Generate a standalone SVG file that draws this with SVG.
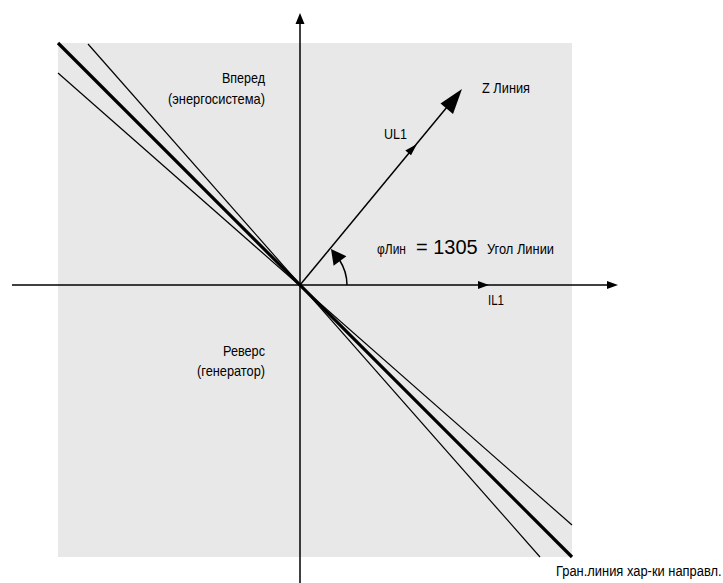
<svg xmlns="http://www.w3.org/2000/svg" width="723" height="583" viewBox="0 0 723 583">
<style>
.lbl{font-family:"Liberation Sans",Arial,sans-serif;font-size:14.5px;fill:#000}
.big{font-family:"Liberation Sans",Arial,sans-serif;font-size:20px;fill:#000}
.ax{stroke:#000;stroke-width:1.5;fill:none}
.thin{stroke:#000;stroke-width:1.2;fill:none}
.thick{stroke:#000;stroke-width:3.2;fill:none}
.head{fill:#000;stroke:none}
</style>
<rect id="area" x="58" y="43" width="514" height="514" fill="#e8e8e8"/>
<g id="connectors">
  <line class="thin" x1="88" y1="44" x2="540" y2="557"/>
  <line class="thin" x1="58" y1="73" x2="572" y2="525"/>
  <line class="thick" x1="58" y1="43" x2="572" y2="557"/>
  <line class="ax" x1="12" y1="285" x2="608" y2="285"/>
  <polygon class="head" points="618,285 607,281 607,289"/>
  <polygon class="head" points="489,285 478,281 478,289"/>
  <line class="ax" x1="300" y1="583" x2="300" y2="22"/>
  <polygon class="head" points="300,13 295.5,24 304.5,24"/>
  <line class="ax" x1="300" y1="285" x2="452" y2="101"/>
  <polygon class="head" points="462,89 440.5,103.5 453,114"/>
  <polygon class="head" points="417,144 405.3,150.5 411,155.3"/>
  <path class="ax" d="M347,285 A47,47 0 0 0 339.5,260"/>
  <polygon class="head" points="331,249 346.4,256.2 333.6,265.8"/>
</g>
<g id="forward">
  <text class="lbl" x="222" y="83" textLength="43" lengthAdjust="spacingAndGlyphs">Вперед</text>
  <text class="lbl" x="168" y="104" textLength="97" lengthAdjust="spacingAndGlyphs">(энергосистема)</text>
</g>
<g id="reverse">
  <text class="lbl" x="223" y="356" textLength="42" lengthAdjust="spacingAndGlyphs">Реверс</text>
  <text class="lbl" x="197" y="376" textLength="68" lengthAdjust="spacingAndGlyphs">(генератор)</text>
</g>
<g id="zline">
  <text class="lbl" x="482" y="93" textLength="48" lengthAdjust="spacingAndGlyphs">Z Линия</text>
</g>
<g id="ul1">
  <text class="lbl" x="384" y="139" textLength="23" lengthAdjust="spacingAndGlyphs">UL1</text>
</g>
<g id="angle">
  <text class="lbl" x="377" y="254" textLength="29" lengthAdjust="spacingAndGlyphs">φЛин</text>
  <text class="big" x="416" y="254">= 1305</text>
  <text class="lbl" x="487" y="254" textLength="67" lengthAdjust="spacingAndGlyphs">Угол Линии</text>
</g>
<g id="il1">
  <text class="lbl" x="488" y="305" textLength="16" lengthAdjust="spacingAndGlyphs">IL1</text>
</g>
<g id="boundary">
  <text class="lbl" transform="translate(556,576) scale(0.89,1)" x="0" y="0">Гран.линия хар-ки направл.</text>
</g>
</svg>
